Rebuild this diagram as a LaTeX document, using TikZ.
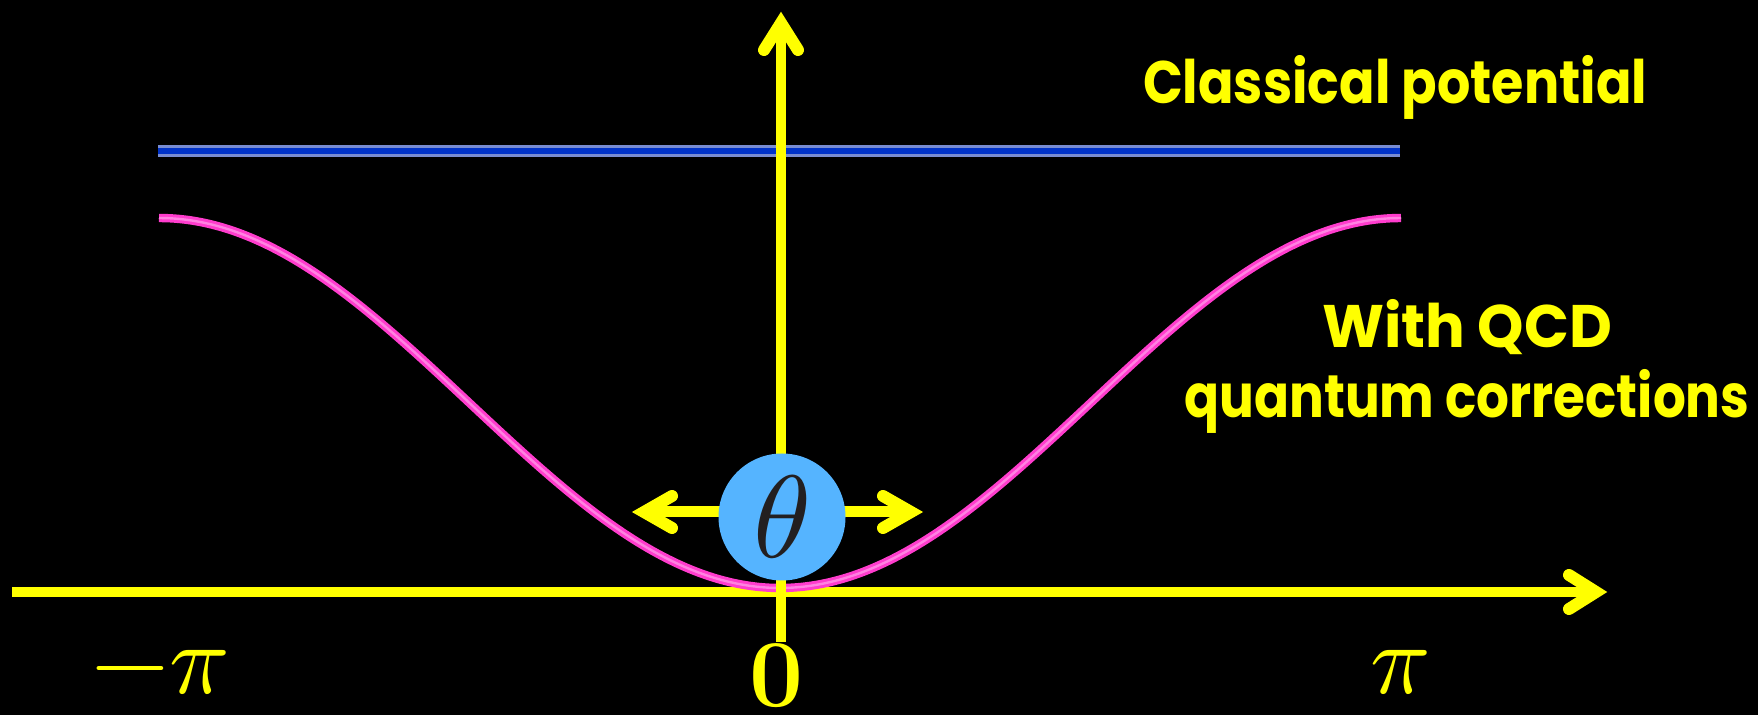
\documentclass[tikz,border=0pt]{standalone}
\usepackage{unicode-math}
\setmathfont{Latin Modern Math}
\newfontfamily\labfont{Poppins}
\usetikzlibrary{calc}
\definecolor{axisyellow}{RGB}{255,255,0}
\definecolor{blueline}{RGB}{0,50,200}
\definecolor{blueedge}{RGB}{120,140,210}
\definecolor{curvemag}{RGB}{255,60,205}
\definecolor{curvelight}{RGB}{255,130,225}
\definecolor{ballblue}{RGB}{85,180,255}
\definecolor{thetaink}{RGB}{35,31,32}
\newsavebox\fitbox
\newcommand\fitw[2]{\sbox\fitbox{#2}\pgfmathsetmacro\fitfac{#1/\the\wd\fitbox}\scalebox{\fitfac}[1]{\usebox\fitbox}}
\tikzset{
  axisline/.style={draw=axisyellow, line width=5pt},
  chev/.style={draw=axisyellow, line width=6pt, line cap=round, line join=miter},
  shaft/.style={draw=axisyellow, line width=5.5pt},
  lab/.style={text=axisyellow, font=\labfont\bfseries\fontsize{30}{36}\selectfont, inner sep=0pt, anchor=base},
  mlab/.style={text=axisyellow, font=\fontsize{50}{60}\selectfont, inner sep=0pt, anchor=base},
  ball/.style={circle, fill=ballblue, minimum size=63.5pt, inner sep=0pt, text=thetaink, font=\fontsize{58.5}{60}\selectfont},
}
\begin{document}
\begin{tikzpicture}[x=0.5pt,y=-0.5pt]
\fill[black] (0,0) rectangle (1758,715);
\useasboundingbox (0,0) rectangle (1758,715);
% classical potential (flat line)
\coordinate (bl) at (158,151);
\coordinate (br) at (1400,151);
\draw[blueedge, line width=5.6pt] (bl) -- (br);
\draw[blueline, line width=3.4pt] (bl) -- (br);
% horizontal axis
\coordinate (xstart) at (12,592);
\coordinate (xend) at (1596,592);
\draw[axisline] (xstart) -- (xend);
\draw[chev] ($(xend)+(-27,-17)$) -- (xend) -- ($(xend)+(-27,17)$);
% QCD potential
\draw[curvemag, line width=4.2pt] plot[domain=-180:180, samples=121, smooth] ({780+\x/180*621}, {588-185*(1-cos(\x))});
\draw[curvelight, line width=1.2pt] plot[domain=-180:180, samples=121, smooth] ({780+\x/180*621}, {588-185*(1-cos(\x))});
% vertical axis
\coordinate (ybot) at (781,642);
\coordinate (ytop) at (781,23);
\draw[axisline] (ybot) -- (ytop);
\draw[chev] ($(ytop)+(-17,27)$) -- (ytop) -- ($(ytop)+(17,27)$);
% theta double arrow
\coordinate (lt) at (644,512);
\coordinate (rt) at (911,512);
\draw[shaft] (lt) -- (rt);
\draw[chev] ($(lt)+(28,-16)$) -- (lt) -- ($(lt)+(28,16)$);
\draw[chev] ($(rt)+(-28,-16)$) -- (rt) -- ($(rt)+(-28,16)$);
\node[ball] (theta) at (782,517) {$\theta$};
% labels
\node[lab] (classical) at (1395,104) {\fitw{252pt}{Classical potential}};
\node[lab] (withqcd) at (1467,348) {\fitw{145pt}{With QCD}};
\node[lab] (quantum) at (1467,418) {\fitw{282.5pt}{quantum corrections}};
\node[mlab] (mpi) at (160,694) {$-\pi$};
\node[mlab, font=\fontsize{48}{58}\selectfont] (zero) at (777,707) {$\mathbf{0}$};
\node[mlab] (ppi) at (1400,694) {$\pi$};
\end{tikzpicture}
\end{document}
